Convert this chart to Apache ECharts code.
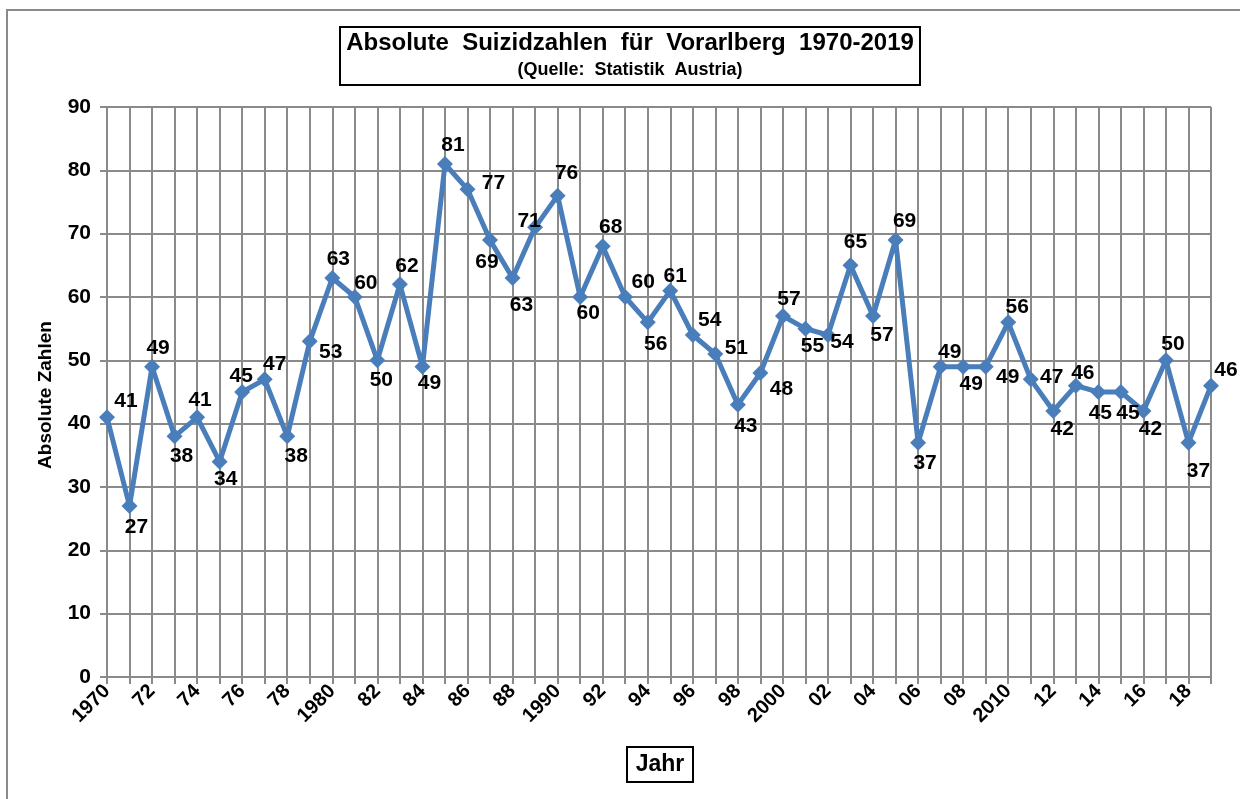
<!DOCTYPE html>
<html>
<head>
<meta charset="utf-8">
<script src="https://cdn.jsdelivr.net/npm/echarts@6/dist/echarts.min.js"></script>
<style>
html,body{margin:0;padding:0;background:#fff;}
#c{width:1240px;height:799px;}
</style>
</head>
<body>
<div id="c"></div>
<script>
const years = ['1970','1971','1972','1973','1974','1975','1976','1977','1978','1979',
  '1980','1981','1982','1983','1984','1985','1986','1987','1988','1989',
  '1990','1991','1992','1993','1994','1995','1996','1997','1998','1999',
  '2000','2001','2002','2003','2004','2005','2006','2007','2008','2009',
  '2010','2011','2012','2013','2014','2015','2016','2017','2018','2019'];
const values = [41,27,49,38,41,34,45,47,38,53,
  63,60,50,62,49,81,77,69,63,71,
  76,60,68,60,56,61,54,51,43,48,
  57,55,54,65,57,69,37,49,49,49,
  56,47,42,46,45,45,42,50,37,46];
const tickLabels = ['1970','','72','','74','','76','','78','',
  '1980','','82','','84','','86','','88','',
  '1990','','92','','94','','96','','98','',
  '2000','','02','','04','','06','','08','',
  '2010','','12','','14','','16','','18',''];
const yTicks = [0,10,20,30,40,50,60,70,80,90];
// label placement (styling only): offset from point centre in px
const labelOffsets = [[19,-16],[7,21],[6,-18],[7,20],[3,-17],[6,18],[-1,-16],[10,-15],[9,20],[21,11],
  [6,-19],[11,-14],[4,20],[7,-18],[7,17],[8,-19],[26,-6],[-3,22],[9,27],[-6,-6],
  [9,-22],[8,16],[8,-19],[18,-15],[8,22],[5,-14],[17,-15],[21,-6],[8,22],[21,16],
  [6,-17],[7,18],[14,7],[5,-23],[9,19],[9,-19],[7,21],[9,-14],[8,18],[22,11],
  [9,-15],[21,-2],[9,18],[7,-12],[2,21],[7,21],[7,18],[7,-16],[10,29],[15,-15]];

const FONT = "'Liberation Sans', Arial, sans-serif";
const chart = echarts.init(document.getElementById('c'), null, {renderer:'canvas'});
const seriesData = values.map((v,i)=>({value:v, label:{offset:labelOffsets[i]}}));

chart.setOption({
  animation:false,
  backgroundColor:'#ffffff',
  textStyle:{fontFamily:FONT},
  grid:{left:107, right:29, top:107, bottom:122, containLabel:false},
  xAxis:{
    type:'category',
    data:years,
    boundaryGap:false,
    axisLine:{show:true, lineStyle:{color:'#8a8a8a', width:2}},
    axisTick:{show:true, interval:0, length:7, lineStyle:{color:'#8a8a8a', width:2}},
    splitLine:{show:true, interval:0, lineStyle:{color:'#8a8a8a', width:2}},
    axisLabel:{interval:0, rotate:45, margin:11, color:'#000', fontWeight:'bold', fontSize:20, fontFamily:FONT,
      formatter:(v,i)=>tickLabels[i]}
  },
  yAxis:{
    type:'value', min:yTicks[0], max:yTicks[yTicks.length-1], interval:10,
    axisLine:{show:true, lineStyle:{color:'#8a8a8a', width:2}},
    axisTick:{show:true, length:7, lineStyle:{color:'#8a8a8a', width:2}},
    splitLine:{show:true, lineStyle:{color:'#8a8a8a', width:2}},
    axisLabel:{color:'#000', fontWeight:'bold', fontSize:21, margin:16, fontFamily:FONT}
  },
  series:[{
    type:'line',
    data:seriesData,
    symbol:'diamond',
    symbolSize:16,
    lineStyle:{color:'#4a7ebb', width:5},
    itemStyle:{color:'#4a7ebb'},
    label:{show:true, position:'inside', color:'#000', fontWeight:'bold', fontSize:21, fontFamily:FONT},
    z:5
  }],
  graphic:[
    {type:'rect', z:-1, shape:{x:7, y:10, width:1260, height:820}, style:{fill:null, stroke:'#8a8a8a', lineWidth:2}},
    {type:'rect', shape:{x:340, y:27, width:580, height:58}, style:{fill:'#fff', stroke:'#000', lineWidth:2}},
    {type:'text', x:630, y:43, style:{text:'Absolute  Suizidzahlen  für  Vorarlberg  1970-2019', fill:'#000', font:'bold 24px '+FONT, textAlign:'center', textVerticalAlign:'middle'}},
    {type:'text', x:630, y:70, style:{text:'(Quelle:  Statistik  Austria)', fill:'#000', font:'bold 18px '+FONT, textAlign:'center', textVerticalAlign:'middle'}},
    {type:'rect', shape:{x:627, y:747, width:66, height:35}, style:{fill:'#fff', stroke:'#000', lineWidth:2}},
    {type:'text', x:660, y:765, style:{text:'Jahr', fill:'#000', font:'bold 23px '+FONT, textAlign:'center', textVerticalAlign:'middle'}},
    {type:'text', x:46, y:395, rotation:Math.PI/2, style:{text:'Absolute Zahlen', fill:'#000', font:'bold 19px '+FONT, textAlign:'center', textVerticalAlign:'middle'}}
  ]
});
</script>
</body>
</html>
